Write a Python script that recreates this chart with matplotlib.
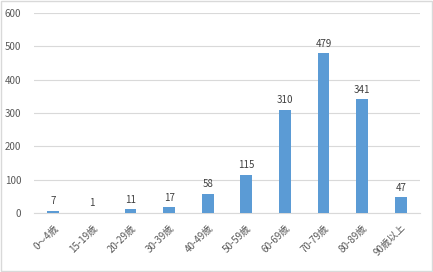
import matplotlib
matplotlib.use("Agg")
import matplotlib.pyplot as plt
from matplotlib.patches import Rectangle

plt.rcParams['font.family'] = ['Noto Sans CJK JP', 'DejaVu Sans']

categories = ["0〜4歳", "15-19歳", "20-29歳", "30-39歳", "40-49歳", "50-59歳",
              "60-69歳", "70-79歳", "80-89歳", "90歳以上"]
values = [7, 1, 11, 17, 58, 115, 310, 479, 341, 47]
yticks = [0, 100, 200, 300, 400, 500, 600]

fig = plt.figure(figsize=(4.33, 2.72), dpi=100)
fig.patches.append(Rectangle((0.002, 0.004), 0.995, 0.992, transform=fig.transFigure,
                             fill=False, edgecolor="#D9D9D9", linewidth=1))
ax = fig.add_axes([0.0785, 0.217, 0.8915, 0.735])
x = list(range(len(categories)))
bars = ax.bar(x, values, width=0.31, color="#5B9BD5", zorder=3)
for xi, v in zip(x, values):
    ax.text(xi, v + 14, str(v), ha="center", va="bottom", fontsize=7, color="#404040")
ax.set_ylim(0, 600)
ax.set_xlim(-0.5, len(categories) - 0.5)
ax.set_yticks(yticks)
ax.set_yticklabels([str(t) for t in yticks], fontsize=7, color="#595959")
ax.set_xticks(x)
ax.set_xticklabels(categories, rotation=45, ha="right", rotation_mode="anchor",
                   fontsize=7, color="#595959")
ax.grid(axis="y", color="#D9D9D9", linewidth=0.8, zorder=0)
for s in ["top", "right", "left"]:
    ax.spines[s].set_visible(False)
ax.spines["bottom"].set_color("#D9D9D9")
ax.tick_params(axis="x", length=0, pad=7)
ax.tick_params(axis="y", length=0, pad=9)
fig.savefig("out.png", dpi=100)
